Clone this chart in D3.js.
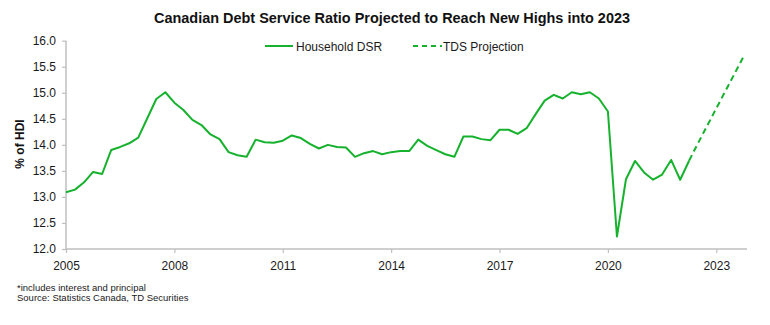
<!DOCTYPE html>
<html><head><meta charset="utf-8">
<script src="https://cdn.jsdelivr.net/npm/d3@7"></script>
<style>body{margin:0;background:#fff;} svg{display:block;font-family:"Liberation Sans",Arial,sans-serif;}</style>
</head><body>
<svg id="c" width="770" height="325"></svg>
<script>
const title = "Canadian Debt Service Ratio Projected to Reach New Highs into 2023";
const yLabel = "% of HDI";
const footnotes = ["*includes interest and principal", "Source: Statistics Canada, TD Securities"];
const startYear = 2005;
const xTickYears = [2005, 2008, 2011, 2014, 2017, 2020, 2023];
const yTicks = [12.0, 12.5, 13.0, 13.5, 14.0, 14.5, 15.0, 15.5, 16.0];
const seriesNames = ["Household DSR", "TDS Projection"];
// quarterly values starting 2005 Q1
const householdDSR = [
  13.09, 13.14, 13.28, 13.48, 13.44, 13.90, 13.96, 14.03, 14.14, 14.51, 14.88, 15.01,
  14.81, 14.67, 14.48, 14.38, 14.20, 14.11, 13.86, 13.80, 13.77, 14.10, 14.05, 14.04,
  14.08, 14.18, 14.13, 14.02, 13.93, 14.00, 13.96, 13.95, 13.77, 13.84, 13.88, 13.82,
  13.86, 13.88, 13.88, 14.10, 13.98, 13.90, 13.82, 13.77, 14.16, 14.16, 14.11, 14.09,
  14.29, 14.29, 14.21, 14.32, 14.59, 14.85, 14.96, 14.89, 15.01, 14.97, 15.01, 14.89,
  14.64, 12.24, 13.34, 13.69, 13.47, 13.33, 13.43, 13.71, 13.33, 13.70
];
// projection starts at last actual quarter (index 69)
const projStartIndex = 69;
const tdsProjection = [13.70, 14.04, 14.37, 14.70, 15.03, 15.36, 15.69];

const green = "#16b22d";
const axisGray = "#bfbfbf";
const svg = d3.select("#c");
const x = d3.scaleLinear().domain([0, 75.4]).range([66, 747]);
const y = d3.scaleLinear().domain([12, 16]).range([249, 40.7]);

// axes
const yAxis = d3.axisLeft(y).tickValues(yTicks).tickFormat(d3.format(".1f")).tickSize(4).tickPadding(6);
const gy = svg.append("g").attr("transform", "translate(66,0)").call(yAxis);
const xAxis = d3.axisBottom(x).tickValues(xTickYears.map(yr => (yr - startYear) * 4))
  .tickFormat(d => String(startYear + d / 4)).tickSize(4).tickPadding(6);
const gx = svg.append("g").attr("transform", "translate(0,249)").call(xAxis);
[gy, gx].forEach(g => {
  g.select(".domain").attr("stroke", axisGray).attr("stroke-width", 1.5);
  g.selectAll(".tick line").attr("stroke", axisGray).attr("stroke-width", 1.2);
  g.selectAll(".tick text").attr("fill", "#1a1a1a").style("font-size", "12px").style("font-family", "Liberation Sans, Arial, sans-serif");
});
gy.select(".domain").attr("d", "M0,249V40.7");
gx.select(".domain").attr("d", "M66,0H747");
gx.selectAll(".tick text").attr("dy", "0.95em");

// lines
const line = d3.line().x(d => x(d[0])).y(d => y(d[1]));
svg.append("path").datum(householdDSR.map((v, i) => [i, v]))
  .attr("d", line).attr("fill", "none").attr("stroke", green).attr("stroke-width", 2).attr("stroke-linejoin", "round");
svg.append("path").datum(tdsProjection.map((v, i) => [projStartIndex + i, v]))
  .attr("d", line).attr("fill", "none").attr("stroke", green).attr("stroke-width", 2).attr("stroke-dasharray", "6,4");

// title
svg.append("text").attr("x", 392).attr("y", 23).attr("text-anchor", "middle")
  .attr("font-weight", "bold").attr("font-size", 14).attr("fill", "#111")
  .attr("textLength", 476).attr("lengthAdjust", "spacingAndGlyphs").text(title);

// y label
svg.append("text").attr("transform", "translate(24,144) rotate(-90)").attr("text-anchor", "middle")
  .attr("font-weight", "bold").attr("font-size", 12).attr("fill", "#111").text(yLabel);

// legend
const lg = svg.append("g");
lg.append("line").attr("x1", 265).attr("x2", 293).attr("y1", 46).attr("y2", 46).attr("stroke", green).attr("stroke-width", 2);
lg.append("text").attr("x", 296).attr("y", 50.5).attr("font-size", 12).attr("fill", "#1a1a1a").text(seriesNames[0]);
lg.append("line").attr("x1", 413).attr("x2", 442).attr("y1", 46).attr("y2", 46).attr("stroke", green).attr("stroke-width", 2).attr("stroke-dasharray", "5,4");
lg.append("text").attr("x", 443).attr("y", 50.5).attr("font-size", 12).attr("fill", "#1a1a1a").text(seriesNames[1]);

// footnotes
footnotes.forEach((t, i) => svg.append("text").attr("x", 17).attr("y", 291 + i * 10)
  .attr("font-size", 9.5).attr("fill", "#1a1a1a").text(t));
</script>
</body></html>
